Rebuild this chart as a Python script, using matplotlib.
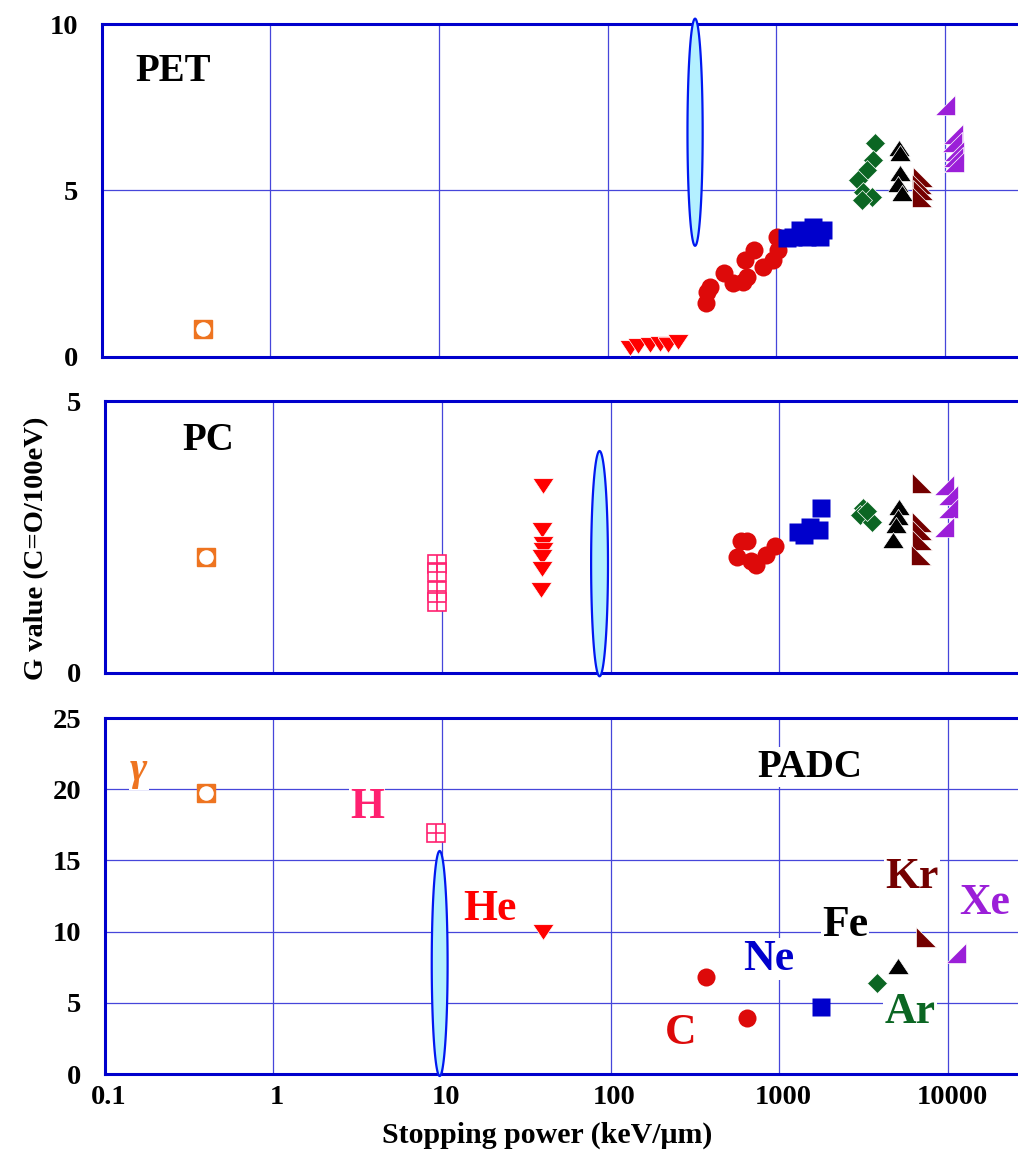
#!/usr/bin/env python3
import matplotlib

matplotlib.use("Agg")
import matplotlib.pyplot as plt
import matplotlib.transforms as mtransforms
import numpy as np

SERIF = ["Liberation Serif", "DejaVu Serif"]

# x axis: stopping power (keV/um), decades
DECADES = [0.1, 1, 10, 100, 1000, 10000]
DECADE_LABELS = ["0.1", "1", "10", "100", "1000", "10000"]

# ---- PET panel ----
PET_GAMMA_X = [0.40]
PET_GAMMA_Y = [0.85]
PET_HE_X = [136, 152, 178, 205, 229, 262]
PET_HE_Y = [0.26, 0.33, 0.36, 0.40, 0.36, 0.44]
PET_C_X = [383, 390, 405, 490, 556, 638, 668, 653, 738, 838, 960, 1005, 1028]
PET_C_Y = [1.63, 1.96, 2.11, 2.51, 2.21, 2.26, 2.41, 2.91, 3.21, 2.71, 2.91, 3.61, 3.21]
PET_NE_X = [1153, 1250, 1383, 1514, 1660, 1815, 1900]
PET_NE_Y = [3.56, 3.60, 3.81, 3.61, 3.91, 3.61, 3.81]
PET_AR_X = [3846, 3758, 3433, 3062, 3283, 3673, 3206]
PET_AR_Y = [6.44, 5.93, 5.62, 5.32, 4.96, 4.81, 4.71]
PET_FE_X = [5336, 5380, 5408, 5285, 5531]
PET_FE_Y = [6.27, 6.12, 5.52, 5.21, 4.92]
PET_KR_X = [7400, 7300, 7450, 7350]
PET_KR_Y = [5.42, 5.20, 5.00, 4.80]
PET_XE_X = [10000, 11200, 11000, 11300, 11100, 11300]
PET_XE_Y = [7.57, 6.70, 6.45, 6.20, 6.00, 5.85]

# ---- PC panel ----
PC_GAMMA_X = [0.40]
PC_GAMMA_Y = [2.14]
PC_H_X = [9.3, 9.3, 9.3, 9.3]
PC_H_Y = [2.00, 1.85, 1.50, 1.30]
PC_HE_X = [40, 39, 39.5, 39.5, 39, 39, 38.5]
PC_HE_Y = [3.43, 2.63, 2.38, 2.26, 2.14, 1.92, 1.53]
PC_C_X = [590, 640, 560, 680, 728, 834, 944]
PC_C_Y = [2.42, 2.42, 2.14, 2.06, 1.99, 2.17, 2.33]
PC_NE_X = [1757, 1297, 1521, 1717, 1400]
PC_NE_Y = [3.03, 2.60, 2.69, 2.63, 2.53]
PC_AR_X = [3135, 3000, 3533, 3300]
PC_AR_Y = [3.03, 2.90, 2.78, 2.97]
PC_FE_X = [5140, 5050, 4950, 4750]
PC_FE_Y = [3.06, 2.87, 2.72, 2.44]
PC_KR_X = [7000, 7050, 7050, 7000, 6950]
PC_KR_Y = [3.49, 2.78, 2.63, 2.44, 2.17]
PC_XE_X = [9500, 10000, 10000, 9500]
PC_XE_Y = [3.46, 3.27, 3.03, 2.69]

# ---- PADC panel ----
PADC_GAMMA_X = [0.40]
PADC_GAMMA_Y = [19.7]
PADC_H_X = [9.27]
PADC_H_Y = [16.9]
PADC_HE_X = [39.8]
PADC_HE_Y = [10.0]
PADC_C_X = [368, 641]
PADC_C_Y = [6.79, 3.93]
PADC_NE_X = [1757]
PADC_NE_Y = [4.67]
PADC_AR_X = [3810]
PADC_AR_Y = [6.37]
PADC_FE_X = [5060]
PADC_FE_Y = [7.56]
PADC_KR_X = [7410]
PADC_KR_Y = [9.63]
PADC_XE_X = [11120]
PADC_XE_Y = [8.50]

# shaded bands (centre keV/um, centre G, half height in G, half width in decades)
BAND_X = [330, 86, 9.7]
BAND_Y = [6.75, 2.01, 7.76]
BAND_HALF_H = [3.41, 2.07, 7.90]
BAND_HALF_W = [0.045, 0.05, 0.047]

COLORS = {
    "gamma": "#EE7420",
    "H": "#FF2070",
    "He": "#FF0000",
    "C": "#DD0A0A",
    "Ne": "#0000CC",
    "Ar": "#0B6623",
    "Fe": "#000000",
    "Kr": "#740000",
    "Xe": "#9B1FD8",
}

TRI_DOWN = [(-1, 0.75), (1, 0.75), (0, -0.75), (-1, 0.75)]
TRI_UP = [(-1, -0.75), (1, -0.75), (0, 0.75), (-1, -0.75)]
TRI_KR = [(-1, -1), (1, -1), (-1, 1), (-1, -1)]
TRI_XE = [(-1, -1), (1, -1), (1, 1), (-1, -1)]

MARKERS = {
    "He": (TRI_DOWN, 15.0),
    "C": ("o", 13.0),
    "Ne": ("s", 13.4),
    "Ar": ("D", 9.8),
    "Fe": (TRI_UP, 15.5),
    "Kr": (TRI_KR, 14.5),
    "Xe": (TRI_XE, 14.5),
}

SPINE = "#0000CC"
GRID = "#4646DA"


def draw_ion(ax, ion, xs, ys):
    color = COLORS[ion]
    if ion == "gamma":
        ax.plot(xs, ys, ls="none", marker="s", ms=13.5, mfc=color, mec=color,
                clip_on=False, zorder=4)
        ax.plot(xs, ys, ls="none", marker="o", ms=10.5, mfc="white", mec="none",
                clip_on=False, zorder=4)
        return
    if ion == "H":
        ax.plot(xs, ys, ls="none", marker="s", ms=13.0, mfc="white", mec=color,
                mew=1.2, clip_on=False, zorder=4)
        ax.plot(xs, ys, ls="none", marker="+", ms=13.0, mec=color, mew=1.2,
                clip_on=False, zorder=4)
        return
    marker, size = MARKERS[ion]
    edge = "none" if ion in ("C", "Ne") else "white"
    ax.plot(xs, ys, ls="none", marker=marker, ms=size, mfc=color, mec=edge,
            mew=0.5, clip_on=False, zorder=4)


def draw_band(ax, i):
    t = np.linspace(0, 2 * np.pi, 240)
    xs = BAND_X[i] * 10 ** (BAND_HALF_W[i] * np.cos(t))
    ys = BAND_Y[i] + BAND_HALF_H[i] * np.sin(t)
    ax.fill(xs, ys, facecolor="#B4F0FF", edgecolor="#0018F0", lw=1.6,
            clip_on=False, zorder=3)


def setup_axes(ax, ylim, yticks, ygrid, xmax, bottom):
    ax.set_xscale("log")
    ax.set_xlim(0.1, xmax)
    ax.set_ylim(*ylim)
    ax.set_xticks(DECADES)
    ax.set_xticklabels(DECADE_LABELS)
    ax.minorticks_off()
    ax.set_yticks(yticks)
    ax.set_yticklabels([str(t) for t in yticks])
    ax.set_axisbelow(True)
    ax.grid(True, axis="x", color=GRID, lw=0.9)
    if ygrid:
        ax.grid(True, axis="y", color=GRID, lw=0.9)
    for sp in ax.spines.values():
        sp.set_color(SPINE)
        sp.set_linewidth(2.2)
    ax.spines["right"].set_visible(False)
    ax.tick_params(axis="y", length=0, pad=17)
    ax.tick_params(axis="x", length=0, pad=8, labelbottom=bottom)
    for lab in ax.get_xticklabels() + ax.get_yticklabels():
        lab.set_fontfamily(SERIF)
        lab.set_fontweight("bold")
        lab.set_fontsize(20.5)


def panel_label(ax, text, x, y, size=28, color="black", style="normal"):
    ax.text(x, y, text, ha="center", va="baseline", fontsize=size,
            fontweight="bold", family=SERIF, color=color, style=style,
            zorder=5, bbox=dict(facecolor="white", edgecolor="none", pad=1))


def main():
    fig = plt.figure(figsize=(10.18, 11.51), dpi=100)
    W, H = 1018.0, 1151.0

    def rect(left, top, bot):
        return [left / W, 1 - bot / H, 1 - left / W, (bot - top) / H]

    ax_pet = fig.add_axes(rect(101.5, 24, 357))
    ax_pc = fig.add_axes(rect(104.5, 401, 673))
    ax_padc = fig.add_axes(rect(104.5, 718, 1074))

    xmax_top = 10 ** (-1 + (1018 - 101.5) / 168.7)
    xmax_low = 10 ** (-1 + (1018 - 104.5) / 168.7)
    setup_axes(ax_pet, (0, 10), [0, 5, 10], True, xmax_top, False)
    setup_axes(ax_pc, (0, 5), [0, 5], False, xmax_low, False)
    setup_axes(ax_padc, (0, 25), [0, 5, 10, 15, 20, 25], True, xmax_low, True)

    # x tick labels sit a few pixels right of the grid lines
    shift = mtransforms.ScaledTranslation(4 / 100, 0, fig.dpi_scale_trans)
    for lab in ax_padc.get_xticklabels():
        lab.set_transform(lab.get_transform() + shift)

    for i, ax in enumerate([ax_pet, ax_pc, ax_padc]):
        draw_band(ax, i)

    pet = [
        ("gamma", PET_GAMMA_X, PET_GAMMA_Y), ("He", PET_HE_X, PET_HE_Y),
        ("C", PET_C_X, PET_C_Y), ("Ne", PET_NE_X, PET_NE_Y),
        ("Ar", PET_AR_X, PET_AR_Y), ("Fe", PET_FE_X, PET_FE_Y),
        ("Kr", PET_KR_X, PET_KR_Y), ("Xe", PET_XE_X, PET_XE_Y),
    ]
    pc = [
        ("gamma", PC_GAMMA_X, PC_GAMMA_Y), ("H", PC_H_X, PC_H_Y),
        ("He", PC_HE_X, PC_HE_Y), ("C", PC_C_X, PC_C_Y),
        ("Ne", PC_NE_X, PC_NE_Y), ("Ar", PC_AR_X, PC_AR_Y),
        ("Fe", PC_FE_X, PC_FE_Y), ("Kr", PC_KR_X, PC_KR_Y),
        ("Xe", PC_XE_X, PC_XE_Y),
    ]
    padc = [
        ("gamma", PADC_GAMMA_X, PADC_GAMMA_Y), ("H", PADC_H_X, PADC_H_Y),
        ("He", PADC_HE_X, PADC_HE_Y), ("C", PADC_C_X, PADC_C_Y),
        ("Ne", PADC_NE_X, PADC_NE_Y), ("Ar", PADC_AR_X, PADC_AR_Y),
        ("Fe", PADC_FE_X, PADC_FE_Y), ("Kr", PADC_KR_X, PADC_KR_Y),
        ("Xe", PADC_XE_X, PADC_XE_Y),
    ]
    for ax, rows in [(ax_pet, pet), (ax_pc, pc), (ax_padc, padc)]:
        for ion, xs, ys in rows:
            draw_ion(ax, ion, xs, ys)

    # polymer names
    panel_label(ax_pet, "PET", 0.267, 8.30)
    panel_label(ax_pc, "PC", 0.413, 4.10)
    panel_label(ax_padc, "PADC", 1511, 20.88)

    # ion names in the PADC panel
    panel_label(ax_padc, "\u03b3", 0.160, 20.65, 30, COLORS["gamma"], "italic")
    panel_label(ax_padc, "H", 3.60, 17.98, 31.5, COLORS["H"])
    panel_label(ax_padc, "He", 19.3, 10.81, 31.5, COLORS["He"])
    panel_label(ax_padc, "C", 261, 2.11, 31.5, COLORS["C"])
    panel_label(ax_padc, "Ne", 869, 7.30, 31.5, COLORS["Ne"])
    panel_label(ax_padc, "Fe", 2449, 9.69, 31.5, COLORS["Fe"])
    panel_label(ax_padc, "Kr", 6110, 13.06, 31.5, COLORS["Kr"])
    panel_label(ax_padc, "Xe", 16560, 11.24, 31.5, COLORS["Xe"])
    panel_label(ax_padc, "Ar", 5945, 3.58, 31.5, COLORS["Ar"])

    fig.text(546.7 / W, 1 - 1143 / H, "Stopping power (keV/\u03bcm)",
             ha="center", va="baseline", fontsize=21.5, fontweight="bold",
             family=SERIF)
    fig.text(37 / W, 1 - 548 / H, "G value (C=O/100eV)", rotation=90,
             ha="center", va="center", fontsize=20.5, fontweight="bold",
             family=SERIF)

    fig.savefig("out.png", dpi=100)
    plt.close(fig)


if __name__ == "__main__":
    main()
